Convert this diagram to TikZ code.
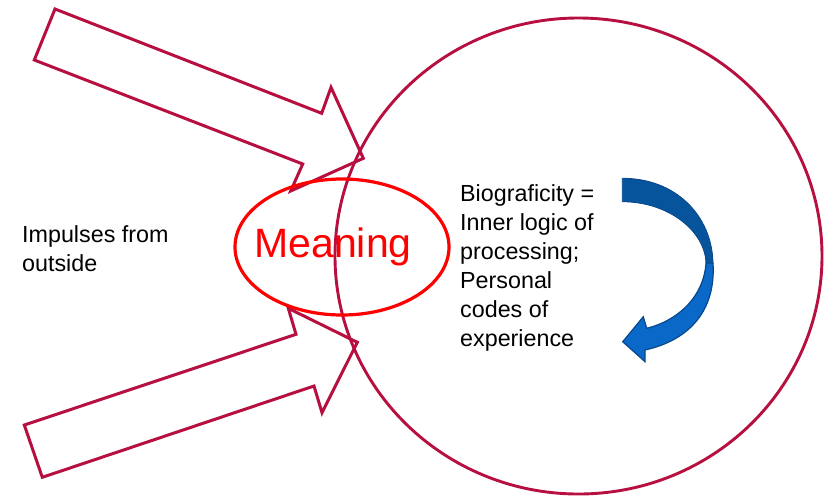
\documentclass[tikz,border=0pt]{standalone}
\usepackage{fontspec}
\setmainfont{Liberation Sans}
\usetikzlibrary{shapes.geometric}
\definecolor{crimson}{RGB}{183,16,64}
\definecolor{brightred}{RGB}{255,0,0}
\definecolor{bluedark}{RGB}{6,84,156}
\definecolor{bluelight}{RGB}{10,104,200}
\definecolor{blueline}{RGB}{8,72,140}
\tikzset{
  blockarrow/.style={draw=crimson, line width=3pt, line join=miter, fill=none},
  bigcircle/.style={ellipse, draw=crimson, line width=2.9pt, minimum width=487pt, minimum height=476pt, inner sep=0pt},
  meaningoval/.style={ellipse, draw=brightred, line width=3.2pt, minimum width=214pt, minimum height=136pt, inner sep=0pt, text=brightred, font=\fontsize{41}{44}\selectfont},
  plaintext/.style={inner sep=0pt, align=left, anchor=base west, font=\fontsize{23.3}{29}\selectfont},
  curvedback/.style={fill=bluedark, draw=blueline, line width=0.8pt},
  curvedfront/.style={fill=bluelight, draw=blueline, line width=1.2pt, line join=miter},
}
\begin{document}
\begin{tikzpicture}[x=1pt,y=-1pt]
\useasboundingbox (0,0) rectangle (827,499);
% block arrows
\draw[blockarrow] (55,9) -- (321.7,113.3) -- (331,87.3) -- (363.3,158.3) -- (290.7,191) -- (302.7,164) -- (34.3,60) -- cycle;
\draw[blockarrow] (24.3,425) -- (296,334.3) -- (288.3,308.3) -- (357.3,342.3) -- (322,412.7) -- (314,386) -- (42.3,477.3) -- cycle;
% big circle
\node[bigcircle] (circ) at (578.5,256) {};
% meaning oval
\node[meaningoval] (meaning) at (342,247) {\hspace*{-18pt}Meaning};
% texts
\node[plaintext] (impulses) at (22,271.7) {Impulses from\\outside};
\node[plaintext] (bio) at (460,346.7) {Biograficity =\\Inner logic of\\processing;\\Personal\\codes of\\experience};
% curved arrow
\path[curvedback] (622.3,178.3) .. controls (675,178) and (712,215) .. (713,263)
  -- (706,263) .. controls (705,232) and (670,202) .. (622.3,201.7) -- cycle;
\path[curvedfront] (713,263) .. controls (716,310) and (690,340) .. (645,350)
  -- (645,361.7) -- (622.7,341.7) -- (643.3,316.7) -- (646.7,328.3)
  .. controls (680,320) and (704,295) .. (706,263) -- cycle;
\end{tikzpicture}
\end{document}
